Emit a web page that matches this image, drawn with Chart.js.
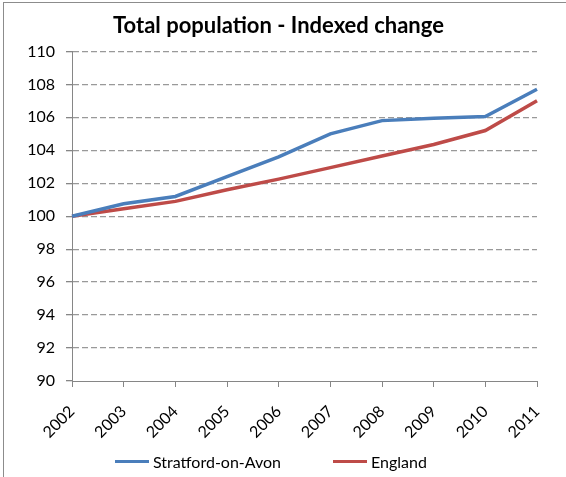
<!DOCTYPE html>
<html>
<head>
<meta charset="utf-8">
<script src="https://cdn.jsdelivr.net/npm/chart.js@4"></script>
<style>
    html, body { margin: 0; padding: 0; background: #fff; }
    #wrap { position: relative; width: 566px; height: 477px; overflow: hidden; }
    #frame { position: absolute; left: 3px; top: 2px; width: 600px; height: 600px;
             border-left: 1px solid #8c8c8c; border-top: 1px solid #8c8c8c; }
    #legend { position: absolute; left: 115px; top: 452px; display: flex; align-items: center;
              font-family: Lato, sans-serif; font-size: 16px; color: #000; }
    .item { display: flex; align-items: center; margin-right: 52px; }
    .swatch { width: 34px; height: 3px; margin-right: 4px; }
</style>
</head>
<body>
<div id="wrap">
    <canvas id="chart" width="566" height="477"></canvas>
    <div id="frame"></div>
    <div id="legend"></div>
</div>
<script>
const years = ["2002", "2003", "2004", "2005", "2006", "2007", "2008", "2009", "2010", "2011"];
const stratford = [100, 100.75, 101.2, 102.4, 103.6, 105.0, 105.8, 105.95, 106.05, 107.7];
const england = [100, 100.45, 100.9, 101.6, 102.25, 102.95, 103.65, 104.35, 105.2, 107.0];
const seriesNames = ["Stratford-on-Avon", "England"];
const seriesColors = ["#4a7ebb", "#be4b48"];

const axisColor = "#868686";
const font = "Lato, sans-serif";

const ctx = document.getElementById("chart").getContext("2d");
const chart = new Chart(ctx, {
    type: "line",
    data: {
        labels: years,
        datasets: [
            {
                label: seriesNames[0],
                data: stratford,
                borderColor: seriesColors[0],
                backgroundColor: seriesColors[0],
                borderWidth: 3.5,
                pointRadius: 0,
                tension: 0,
                fill: false,
            },
            {
                label: seriesNames[1],
                data: england,
                borderColor: seriesColors[1],
                backgroundColor: seriesColors[1],
                borderWidth: 3.5,
                pointRadius: 0,
                tension: 0,
                fill: false,
            },
        ],
    },
    options: {
        responsive: false,
        animation: false,
        layout: { padding: { left: 20, right: 29, top: 0, bottom: 0 } },
        plugins: {
            legend: { display: false },
            tooltip: { enabled: false },
            title: {
                display: true,
                text: "Total population - Indexed change",
                color: "#000",
                font: { family: font, size: 22, weight: "bold", lineHeight: 1.2 },
                padding: { top: 13, bottom: 12 },
            },
        },
        scales: {
            x: {
                offset: false,
                grid: { drawOnChartArea: false, drawTicks: true, tickLength: 6, color: axisColor },
                border: { display: true, color: axisColor, width: 1 },
                ticks: {
                    color: "#000",
                    font: { family: font, size: 16 },
                    maxRotation: 45,
                    minRotation: 45,
                    padding: 15,
                    autoSkip: false,
                },
                afterFit: (scale) => { scale.height = 96; },
            },
            y: {
                min: 90,
                max: 110,
                grid: {
                    // no dashed line over the x axis at 90
                    color: (c) => (c.tick && c.tick.value === 90 ? "rgba(0,0,0,0)" : "#999999"),
                    tickColor: axisColor,
                    tickLength: 6,
                    lineWidth: 1.3,
                },
                border: { display: true, color: axisColor, width: 1, dash: [6, 3] },
                ticks: {
                    stepSize: 2,
                    color: "#000",
                    font: { family: font, size: 16 },
                    padding: 11,
                },
                afterFit: (scale) => { scale.width = 52; },
            },
        },
    },
});

// legend as html, built from the datasets
const legend = document.getElementById("legend");
chart.data.datasets.forEach((ds) => {
    const item = document.createElement("div");
    item.className = "item";
    const sw = document.createElement("span");
    sw.className = "swatch";
    sw.style.background = ds.borderColor;
    const txt = document.createElement("span");
    txt.textContent = ds.label;
    item.appendChild(sw);
    item.appendChild(txt);
    legend.appendChild(item);
});
</script>
</body>
</html>
